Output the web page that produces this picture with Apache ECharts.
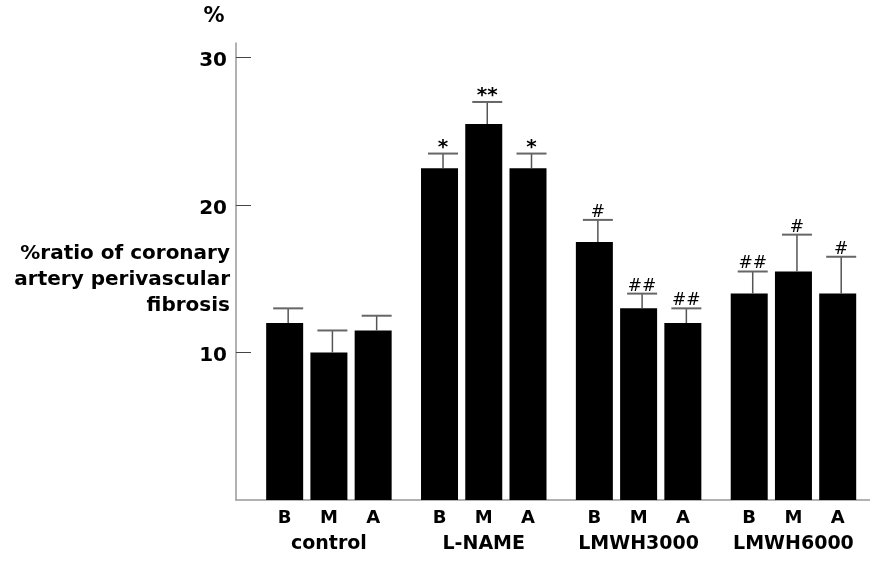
<!DOCTYPE html>
<html>
<head>
<meta charset="utf-8">
<script src="https://cdn.jsdelivr.net/npm/echarts@6/dist/echarts.min.js"></script>
<style>html,body{margin:0;padding:0;background:#fff}#c{width:870px;height:562px}</style>
</head>
<body>
<div id="c"></div>
<script>
const groups = ['control', 'L-NAME', 'LMWH3000', 'LMWH6000'];
const subs = ['B', 'M', 'A'];
const means = [12, 10, 11.5, 22.5, 25.5, 22.5, 17.5, 13, 12, 14, 15.5, 14];
const upper = [13, 11.5, 12.5, 23.5, 27, 23.5, 19, 14, 13, 15.5, 18, 16.5];
const marks = ['', '', '', '*', '**', '*', '#', '##', '##', '##', '#', '#'];
const yTickLabels = [10, 20, 30];

const FONT = '"DejaVu Sans", Verdana, sans-serif';
const pos = means.map((_, i) => Math.floor(i / 3) * 3.5 + (i % 3));
const groupPos = groups.map((_, g) => g * 3.5 + 1);
const findIdx = (arr, v) => arr.findIndex(p => Math.abs(p - v) < 0.01);

const chart = echarts.init(document.getElementById('c'), null, {renderer: 'canvas'});
const option = {
  animation: false,
  backgroundColor: '#fff',
  grid: {left: 236, right: 0, top: 43, bottom: 62},
  xAxis: [{
    type: 'value', min: -1.1, max: 13.23,
    axisLine: {show: true, onZero: false, lineStyle: {color: '#999', width: 1.5}},
    axisTick: {show: false},
    splitLine: {show: false},
    axisLabel: {
      customValues: pos,
      formatter: v => { const i = findIdx(pos, v); return i >= 0 ? subs[i % 3] : ''; },
      color: '#000', fontFamily: FONT, fontWeight: 'bold', fontSize: 18, margin: 9
    }
  }, {
    type: 'value', min: -1.1, max: 13.23, position: 'bottom',
    axisLine: {show: false, onZero: false}, axisTick: {show: false}, splitLine: {show: false},
    axisLabel: {
      customValues: groupPos,
      formatter: v => { const g = findIdx(groupPos, v); return g >= 0 ? groups[g] : ''; },
      color: '#000', fontFamily: FONT, fontWeight: 'bold', fontSize: 19, margin: 35
    }
  }],
  yAxis: {
    type: 'value', min: 0, max: 31, interval: 10,
    axisLine: {show: true, onZero: false, lineStyle: {color: '#999', width: 1.5}},
    axisTick: {show: true, inside: true, length: 15, customValues: yTickLabels,
      lineStyle: {color: '#444', width: 1}},
    splitLine: {show: false},
    axisLabel: {
      customValues: yTickLabels,
      formatter: v => '{t|' + v + '}',
      margin: 9,
      rich: {t: {color: '#000', fontFamily: FONT, fontWeight: 'bold', fontSize: 20,
        padding: [7, 0, 0, 0]}}
    }
  },
  graphic: [{
    type: 'text', x: 214, y: 17,
    style: {text: '%', align: 'center', verticalAlign: 'middle', fill: '#000',
      font: 'bold 21px ' + FONT}
  }, {
    type: 'text', x: 230, y: 241,
    style: {text: '%ratio of coronary\nartery perivascular\nfibrosis', align: 'right',
      verticalAlign: 'top', lineHeight: 26, fill: '#000', font: 'bold 20px ' + FONT}
  }],
  series: [{
    type: 'bar', xAxisIndex: 0, yAxisIndex: 0,
    barWidth: 37,
    itemStyle: {color: '#000'},
    data: means.map((m, i) => [pos[i], m])
  }, {
    type: 'custom', xAxisIndex: 0, yAxisIndex: 0, z: 5,
    encode: {x: 0, y: [1, 2]},
    data: means.map((m, i) => [pos[i], m, upper[i], i]),
    renderItem: function (params, api) {
      const x = api.value(0), m = api.value(1), u = api.value(2), i = api.value(3);
      const pb = api.coord([x, m]);
      const pu = api.coord([x, u]);
      const lx = pb[0] + 3.5;
      const mk = marks[i];
      const children = [
        {type: 'line', shape: {x1: lx, y1: pb[1], x2: lx, y2: pu[1]},
          style: {stroke: '#555', lineWidth: 1.5}},
        {type: 'line', shape: {x1: lx - 15, y1: pu[1], x2: lx + 15, y2: pu[1]},
          style: {stroke: '#666', lineWidth: 2}}
      ];
      if (mk) {
        const isStar = mk.indexOf('*') >= 0;
        children.push({
          type: 'text',
          style: {
            text: mk, x: lx, y: isStar ? pu[1] + 4 : pu[1] + 1,
            align: 'center', verticalAlign: 'bottom', fill: '#000',
            font: isStar ? 'bold 20px ' + FONT : '17px ' + FONT
          }
        });
      }
      return {type: 'group', children: children};
    }
  }]
};
chart.setOption(option);
</script>
</body>
</html>
